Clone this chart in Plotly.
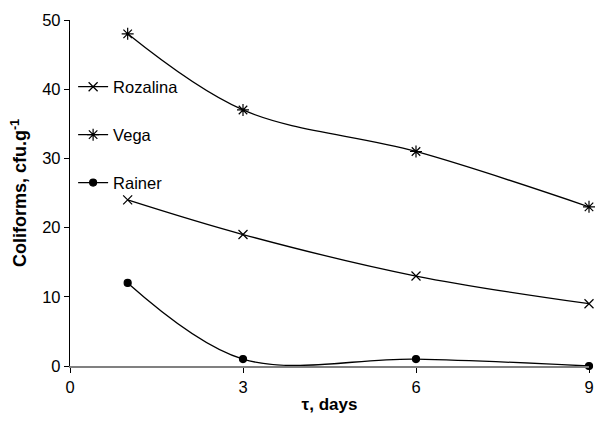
import plotly.graph_objects as go

days = [1, 3, 6, 9]
vega = [48, 37, 31, 23]
rozalina = [24, 19, 13, 9]
rainer = [12, 1, 1, 0]

x_ticks = [0, 3, 6, 9]
y_ticks = [0, 10, 20, 30, 40, 50]

font_family = "Liberation Sans, Arial, sans-serif"

fig = go.Figure()

series = [
    ("Rozalina", rozalina, "x-thin-open", 9),
    ("Vega", vega, "asterisk-open", 10),
    ("Rainer", rainer, "circle", 7),
]

for i, (name, values, symbol, size) in enumerate(series):
    fig.add_trace(go.Scatter(
        x=days, y=values, name=name, mode="lines+markers",
        line=dict(color="black", width=1.3, shape="spline", smoothing=1.0),
        marker=dict(symbol=symbol, size=size, color="black",
                    line=dict(color="black", width=1.2)),
        legendgroup=f"g{i}", cliponaxis=False,
    ))

fig.update_layout(
    template="none",
    width=599, height=421,
    margin=dict(l=70, r=10, t=20, b=55, autoexpand=False),
    paper_bgcolor="white", plot_bgcolor="white",
    font=dict(family=font_family, size=16.5, color="black"),
    showlegend=True,
    legend=dict(x=0.006, y=0.857, xanchor="left", yanchor="top",
                bgcolor="rgba(0,0,0,0)", itemwidth=30, tracegroupgap=23.5,
                font=dict(size=16.5)),
    xaxis=dict(range=[0, 9], tickvals=x_ticks, showgrid=False, zeroline=False,
               automargin=False,
               showline=True, linecolor="#808080", linewidth=2,
               ticks="outside", ticklen=5, tickcolor="black", tickwidth=1,
               title=dict(text="<b>τ, days</b>", font=dict(size=17), standoff=3)),
    yaxis=dict(range=[0, 50], tickvals=y_ticks, showgrid=False, zeroline=False,
               automargin=False,
               showline=True, linecolor="black", linewidth=1.3,
               ticks="outside", ticklen=5, tickcolor="black", tickwidth=1,
               title=dict(text="<b>Coliforms, cfu.g<sup>-1</sup></b>",
                          font=dict(size=18), standoff=10)),
)

fig.write_html("out.html")
